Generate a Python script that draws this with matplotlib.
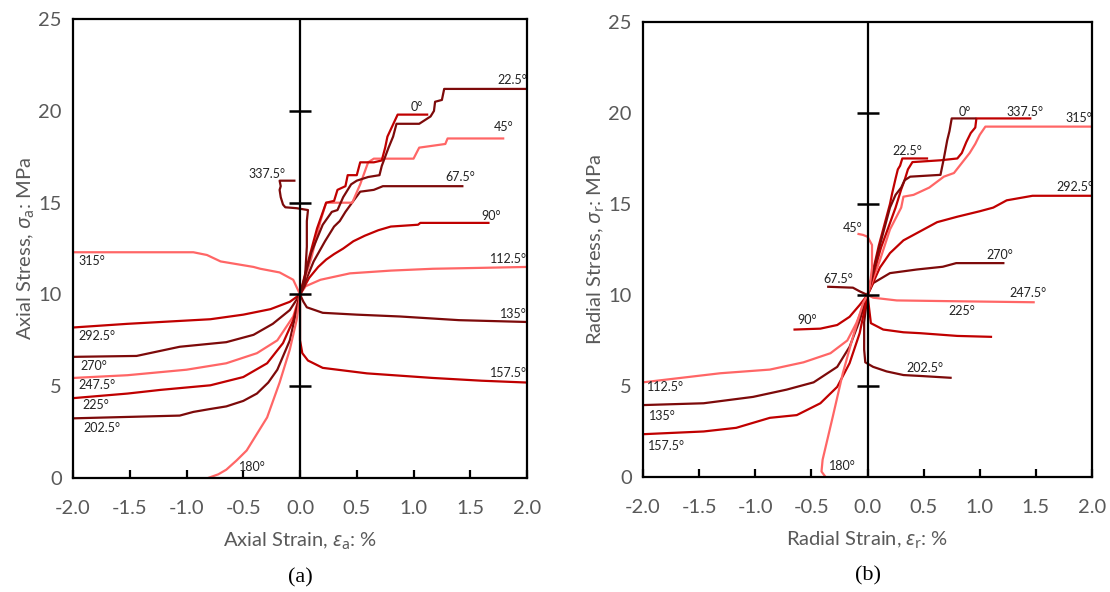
import matplotlib
matplotlib.use("Agg")
import matplotlib.pyplot as plt

plt.rcParams['font.family'] = ['Lato', 'DejaVu Sans']
plt.rcParams['mathtext.fontset'] = 'custom'
plt.rcParams['mathtext.rm'] = 'Noto Sans'
plt.rcParams['mathtext.it'] = 'Noto Sans:italic'

DARK = '#7d0a0a'
RED = '#c00000'
LIGHT = '#ff6666'
GREY = '#595959'

# ---- (a) axial strain (%) vs axial stress (MPa), one list per loading direction
axial_0 = [(0, 10), (0.08, 12.0), (0.15, 13.6), (0.23, 15.0), (0.3, 15.1), (0.33, 15.7), (0.4, 15.9),
           (0.42, 16.5), (0.5, 16.5), (0.53, 17.2), (0.65, 17.2), (0.72, 17.3), (0.75, 18.0),
           (0.77, 18.6), (0.8, 19.0), (0.86, 19.8), (1.12, 19.8)]
axial_22_5 = [(0, 10), (0.1, 12.3), (0.2, 13.8), (0.28, 14.5), (0.33, 14.6), (0.38, 15.3), (0.45, 16.0),
              (0.5, 16.2), (0.6, 16.4), (0.7, 16.5), (0.72, 17.0), (0.78, 18.0), (0.82, 18.6),
              (0.85, 19.3), (1.05, 19.3), (1.15, 19.7), (1.18, 20.0), (1.19, 20.5), (1.25, 20.6),
              (1.27, 21.2), (2.0, 21.2)]
axial_45 = [(0, 10), (0.1, 12.0), (0.18, 14.0), (0.23, 15.0), (0.46, 15.0), (0.53, 16.0), (0.6, 17.2),
            (0.65, 17.4), (1.0, 17.4), (1.05, 18.0), (1.28, 18.2), (1.3, 18.5), (1.79, 18.5)]
axial_67_5 = [(0, 10), (0.12, 11.8), (0.22, 12.9), (0.3, 13.7), (0.35, 14.0), (0.4, 14.5), (0.47, 15.1),
              (0.53, 15.6), (0.65, 15.7), (0.73, 15.9), (1.43, 15.9)]
axial_90 = [(0, 10), (0.08, 10.9), (0.16, 11.5), (0.23, 11.9), (0.3, 12.2), (0.38, 12.5), (0.47, 12.9),
            (0.57, 13.2), (0.69, 13.5), (0.8, 13.7), (1.04, 13.8), (1.06, 13.9), (1.66, 13.9)]
axial_112_5 = [(0, 10), (0.05, 10.45), (0.18, 10.8), (0.44, 11.15), (0.8, 11.3), (1.17, 11.4),
               (1.6, 11.45), (2.0, 11.5)]
axial_135 = [(0, 10), (0.03, 9.6), (0.06, 9.3), (0.2, 9.0), (0.5, 8.9), (0.88, 8.8), (1.4, 8.6), (2.0, 8.5)]
axial_157_5 = [(0, 10), (0, 7.5), (0.02, 6.8), (0.07, 6.4), (0.2, 6.0), (0.59, 5.7), (1.17, 5.45),
               (1.6, 5.3), (2.0, 5.2)]
axial_180 = [(-0.81, 0), (-0.72, 0.2), (-0.65, 0.45), (-0.56, 0.95), (-0.47, 1.5), (-0.38, 2.4),
             (-0.29, 3.3), (-0.18, 5.2), (-0.09, 7.0), (-0.03, 8.6), (0, 10)]
axial_202_5 = [(-2, 3.25), (-1.06, 3.4), (-0.94, 3.6), (-0.8, 3.75), (-0.65, 3.9), (-0.5, 4.2),
               (-0.38, 4.6), (-0.28, 5.2), (-0.2, 5.9), (-0.09, 7.5), (0, 10)]
axial_225 = [(-2, 4.35), (-1.52, 4.6), (-1.23, 4.8), (-0.79, 5.05), (-0.5, 5.5), (-0.29, 6.25),
             (-0.15, 7.35), (-0.06, 8.6), (0, 10)]
axial_247_5 = [(-2, 5.45), (-1.52, 5.6), (-1.0, 5.9), (-0.65, 6.25), (-0.38, 6.8), (-0.2, 7.5),
               (-0.06, 8.8), (0, 10)]
axial_270 = [(-2, 6.6), (-1.44, 6.65), (-1.06, 7.15), (-0.65, 7.4), (-0.41, 7.8), (-0.24, 8.4),
             (-0.09, 9.15), (0, 10)]
axial_292_5 = [(-2, 8.2), (-1.52, 8.4), (-0.79, 8.65), (-0.5, 8.9), (-0.26, 9.2), (-0.09, 9.6), (0, 10)]
axial_315 = [(-2, 12.3), (-0.94, 12.3), (-0.82, 12.15), (-0.7, 11.8), (-0.41, 11.5), (-0.35, 11.4),
             (-0.18, 11.2), (-0.06, 10.8), (0, 10)]
axial_337_5 = [(0, 10), (0.04, 10.5), (0.06, 12.6), (0.06, 14.0), (0.07, 14.6), (-0.03, 14.7),
               (-0.13, 14.75), (-0.15, 14.9), (-0.17, 15.3), (-0.18, 15.7), (-0.17, 15.9),
               (-0.18, 16.2), (-0.05, 16.2)]

# ---- (b) radial strain (%) vs radial stress (MPa)
radial_0 = [(0, 10), (0.1, 12.5), (0.2, 14.8), (0.25, 15.5), (0.3, 15.9), (0.33, 16.3), (0.38, 16.5),
            (0.65, 16.6), (0.68, 17.5), (0.71, 18.5), (0.73, 19.0), (0.75, 19.7), (0.96, 19.7)]
radial_22_5 = [(0, 10), (0.1, 12.7), (0.2, 15.0), (0.22, 15.6), (0.25, 16.4), (0.27, 16.9),
               (0.29, 17.1), (0.31, 17.5), (0.53, 17.5)]
radial_45 = [(0, 10), (0.02, 10.5), (0.04, 11.5), (0.04, 12.75), (0.0, 13.2), (-0.04, 13.3),
             (-0.08, 13.35)]
radial_67_5 = [(0, 10), (-0.07, 10.2), (-0.13, 10.4), (-0.35, 10.45)]
radial_90 = [(0, 10), (-0.07, 9.45), (-0.16, 8.8), (-0.27, 8.35), (-0.42, 8.15), (-0.65, 8.1)]
radial_112_5 = [(-2, 5.2), (-1.31, 5.7), (-0.87, 5.9), (-0.57, 6.3), (-0.33, 6.8), (-0.18, 7.5),
                (-0.1, 8.45), (0, 10)]
radial_135 = [(-2, 3.95), (-1.46, 4.05), (-1.02, 4.4), (-0.72, 4.8), (-0.48, 5.2), (-0.27, 6.05),
              (-0.16, 7.15), (-0.07, 8.6), (0, 10)]
radial_157_5 = [(-2, 2.35), (-1.46, 2.5), (-1.17, 2.7), (-0.87, 3.25), (-0.63, 3.4), (-0.42, 4.05),
                (-0.27, 4.95), (-0.16, 6.25), (-0.07, 7.9), (0, 10)]
radial_180 = [(-0.38, 0.05), (-0.41, 0.3), (-0.4, 0.95), (-0.31, 3.3), (-0.22, 5.7), (-0.13, 7.7),
              (-0.04, 9.55), (0, 10)]
radial_202_5 = [(0, 10), (-0.03, 8.5), (-0.03, 7.0), (-0.02, 6.3), (0.05, 6.05), (0.17, 5.8),
                (0.32, 5.6), (0.47, 5.55), (0.74, 5.45)]
radial_225 = [(0, 10), (0.03, 8.45), (0.14, 8.1), (0.32, 7.95), (0.47, 7.9), (0.8, 7.75), (1.1, 7.7)]
radial_247_5 = [(0, 10), (0.05, 9.85), (0.26, 9.7), (0.85, 9.65), (1.48, 9.6)]
radial_270 = [(0, 10), (0.05, 10.65), (0.2, 11.2), (0.44, 11.4), (0.67, 11.55), (0.79, 11.75),
              (1.21, 11.75)]
radial_292_5 = [(0, 10), (0.11, 11.5), (0.2, 12.3), (0.32, 13.0), (0.44, 13.4), (0.62, 14.0),
                (0.8, 14.3), (1.0, 14.6), (1.12, 14.8), (1.24, 15.2), (1.47, 15.45), (2.0, 15.45)]
radial_315 = [(0, 10), (0.11, 11.9), (0.2, 13.6), (0.3, 14.8), (0.32, 15.4), (0.41, 15.5), (0.55, 15.9),
              (0.68, 16.5), (0.77, 16.7), (0.84, 17.25), (0.91, 17.8), (0.96, 18.3), (1.0, 18.8),
              (1.05, 19.25), (2.0, 19.25)]
radial_337_5 = [(0, 10), (0.12, 12.6), (0.25, 14.8), (0.3, 15.8), (0.33, 16.3), (0.36, 16.9),
                (0.4, 17.3), (0.65, 17.4), (0.8, 17.5), (0.84, 17.8), (0.88, 18.4), (0.92, 18.9),
                (0.96, 19.2), (0.97, 19.7), (1.45, 19.7)]

# (curve, colour, label, label position, alignment)
axial_curves = [
    (axial_135, DARK, '135°', (2.0, 8.95), 'right'),
    (axial_157_5, RED, '157.5°', (2.0, 5.7), 'right'),
    (axial_112_5, LIGHT, '112.5°', (2.0, 11.95), 'right'),
    (axial_90, RED, '90°', (1.68, 14.3), 'center'),
    (axial_67_5, DARK, '67.5°', (1.41, 16.4), 'center'),
    (axial_45, LIGHT, '45°', (1.79, 19.1), 'center'),
    (axial_0, RED, '0°', (1.03, 20.2), 'center'),
    (axial_22_5, DARK, '22.5°', (2.0, 21.7), 'right'),
    (axial_337_5, DARK, '337.5°', (-0.29, 16.55), 'center'),
    (axial_315, LIGHT, '315°', (-1.83, 11.8), 'center'),
    (axial_292_5, RED, '292.5°', (-1.79, 7.75), 'center'),
    (axial_270, DARK, '270°', (-1.82, 6.1), 'center'),
    (axial_247_5, LIGHT, '247.5°', (-1.79, 5.05), 'center'),
    (axial_225, RED, '225°', (-1.8, 4.0), 'center'),
    (axial_202_5, DARK, '202.5°', (-1.75, 2.7), 'center'),
    (axial_180, LIGHT, '180°', (-0.42, 0.6), 'center'),
]
radial_curves = [
    (radial_247_5, LIGHT, '247.5°', (1.43, 10.1), 'center'),
    (radial_225, RED, '225°', (0.84, 9.1), 'center'),
    (radial_202_5, DARK, '202.5°', (0.51, 6.0), 'center'),
    (radial_270, DARK, '270°', (1.18, 12.2), 'center'),
    (radial_292_5, RED, '292.5°', (1.85, 15.95), 'center'),
    (radial_315, LIGHT, '315°', (1.88, 19.7), 'center'),
    (radial_337_5, RED, '337.5°', (1.40, 20.05), 'center'),
    (radial_22_5, RED, '22.5°', (0.35, 17.9), 'center'),
    (radial_0, DARK, '0°', (0.87, 20.05), 'center'),
    (radial_45, LIGHT, '45°', (-0.13, 13.7), 'center'),
    (radial_67_5, DARK, '67.5°', (-0.26, 10.9), 'center'),
    (radial_90, RED, '90°', (-0.54, 8.6), 'center'),
    (radial_112_5, LIGHT, '112.5°', (-1.8, 4.95), 'center'),
    (radial_135, DARK, '135°', (-1.83, 3.35), 'center'),
    (radial_157_5, RED, '157.5°', (-1.79, 1.7), 'center'),
    (radial_180, LIGHT, '180°', (-0.22, 0.6), 'center'),
]

x_ticks = [-2.0, -1.5, -1.0, -0.5, 0.0, 0.5, 1.0, 1.5, 2.0]
y_ticks = [0, 5, 10, 15, 20, 25]
zero_marks = [5, 10, 15, 20]


def draw_panel(ax, curves, ylabel, xlabel, tag):
    for pts, color, label, (lx, ly), ha in curves:
        xs = [p[0] for p in pts]
        ys = [p[1] for p in pts]
        ax.plot(xs, ys, color=color, lw=1.6, solid_joinstyle='round', zorder=3)
        ax.text(lx, ly, label, fontsize=9, color='#222222', ha=ha, va='center', zorder=5)

    # zero-strain line with its cross marks
    ax.axvline(0, color='black', lw=1.6, zorder=4)
    ax.plot([0] * len(zero_marks), zero_marks, ls='none', marker='_', ms=16, mew=1.8,
            color='black', zorder=4)

    ax.set_xlim(-2.0, 2.0)
    ax.set_ylim(0, 25)
    ax.set_xticks(x_ticks)
    ax.set_xticklabels([f'{t:.1f}' for t in x_ticks])
    ax.set_yticks(y_ticks)
    ax.tick_params(axis='x', direction='in', length=6, width=1.6, pad=16,
                   labelsize=14.5, labelcolor=GREY)
    ax.tick_params(axis='y', length=0, pad=8, labelsize=14.5, labelcolor=GREY)
    for sp in ax.spines.values():
        sp.set_linewidth(1.6)
        sp.set_zorder(6)
    ax.set_ylabel(ylabel, fontsize=14.5, color=GREY, labelpad=1)
    ax.set_xlabel(xlabel, fontsize=14.5, color=GREY, labelpad=10)
    ax.text(0.5, -0.218, tag, transform=ax.transAxes, ha='center', va='center',
            fontsize=16, family='Liberation Serif', color='black')


fig = plt.figure(figsize=(11.1, 5.92), dpi=100)
ax_a = fig.add_axes([0.0658, 0.1926, 0.409, 0.775])
ax_b = fig.add_axes([0.5793, 0.1943, 0.4045, 0.7686])

draw_panel(ax_a, axial_curves, r'Axial Stress, $\sigma_{\mathrm{a}}$: MPa',
           r'Axial Strain, $\varepsilon_{\mathrm{a}}$: %', '(a)')
draw_panel(ax_b, radial_curves, r'Radial Stress, $\sigma_{\mathrm{r}}$: MPa',
           r'Radial Strain, $\varepsilon_{\mathrm{r}}$: %', '(b)')

fig.savefig('out.png', dpi=100)
